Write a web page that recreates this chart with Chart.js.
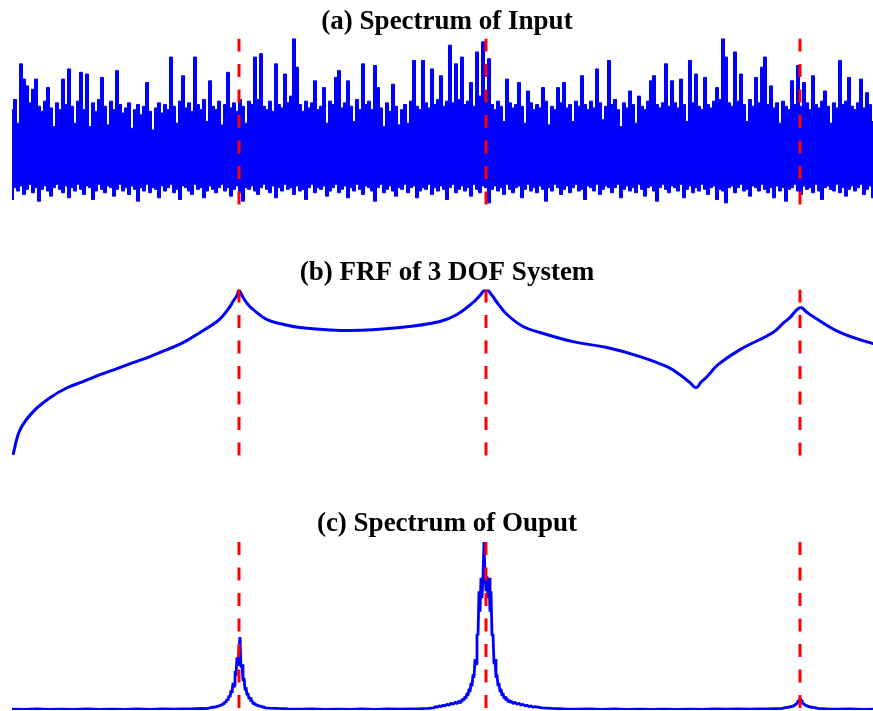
<!DOCTYPE html>
<html>
<head>
<meta charset="utf-8">
<title>3 DOF System Spectra</title>
<script src="https://cdn.jsdelivr.net/npm/chart.js@4.4.0/dist/chart.umd.min.js"></script>
<style>
  html, body { margin: 0; padding: 0; background: #fff; overflow: hidden; }
  body { width: 873px; height: 711px; position: relative; }
  canvas { position: absolute; left: 0; }
</style>
</head>
<body>
<canvas id="inputChart" width="882" height="212" style="top:0px"></canvas>
<canvas id="frfChart" width="882" height="212" style="top:251px"></canvas>
<canvas id="outputChart" width="882" height="212" style="top:502px"></canvas>
<script>
// frequency axis is in FFT bins, 0..870
var NATURAL_FREQS = [227, 474, 788];

var TITLES = ['(a) Spectrum of Input', '(b) FRF of 3 DOF System', '(c) Spectrum of Ouput'];

// input spectrum, one value every 3 bins: upper and lower envelope (relative amplitude)
var INPUT_UPPER = [
  58, 64, 50, 85, 76, 72, 62, 70, 76, 60,
  57, 63, 71, 59, 48, 62, 58, 76, 61, 82,
  60, 50, 63, 80, 58, 79, 48, 62, 57, 64,
  77, 60, 49, 63, 58, 81, 61, 56, 59, 62,
  47, 58, 61, 55, 60, 74, 57, 46, 59, 62,
  56, 61, 58, 89, 60, 50, 63, 78, 59, 62,
  57, 89, 61, 58, 64, 51, 75, 60, 58, 63,
  49, 61, 80, 59, 62, 57, 64, 60, 50, 63,
  61, 89, 64, 91, 60, 58, 63, 57, 85, 61,
  59, 79, 62, 66, 100, 83, 61, 57, 63, 59,
  62, 75, 58, 60, 71, 50, 63, 61, 77, 81,
  59, 62, 75, 60, 51, 64, 58, 85, 61, 63,
  58, 84, 71, 59, 48, 62, 57, 73, 60, 49,
  58, 61, 50, 63, 87, 60, 58, 87, 62, 59,
  82, 61, 64, 78, 60, 63, 96, 62, 85, 64,
  89, 61, 63, 74, 60, 92, 66, 98, 64, 88,
  61, 58, 63, 60, 51, 76, 62, 59, 61, 74,
  60, 50, 69, 62, 58, 61, 59, 71, 63, 49,
  60, 58, 71, 62, 74, 59, 61, 51, 63, 60,
  78, 61, 58, 63, 59, 82, 62, 52, 60, 87,
  61, 64, 58, 48, 62, 59, 69, 61, 50, 66,
  60, 58, 63, 75, 78, 61, 59, 62, 85, 60,
  75, 62, 59, 76, 61, 51, 87, 62, 79, 60,
  58, 77, 61, 59, 63, 71, 64, 100, 89, 62,
  60, 92, 63, 79, 61, 51, 64, 60, 77, 62,
  83, 89, 61, 72, 59, 62, 50, 63, 60, 58,
  75, 61, 84, 60, 74, 62, 58, 78, 61, 59,
  63, 69, 60, 50, 62, 59, 87, 61, 63, 77,
  60, 58, 62, 76, 59, 68, 61, 51, 63, 60,
  59
];

var INPUT_LOWER = [
  5, 12, 10, 13, 8, 11, 14, 9, 12, 4,
  11, 13, 10, 7, 12, 14, 11, 9, 13, 6,
  12, 10, 14, 11, 8, 13, 12, 5, 10, 14,
  11, 9, 13, 12, 7, 11, 14, 10, 12, 8,
  13, 11, 4, 12, 10, 14, 9, 12, 11, 6,
  13, 10, 12, 14, 9, 11, 5, 13, 12, 10,
  8, 14, 11, 12, 6, 10, 13, 11, 9, 12,
  14, 10, 12, 7, 11, 13, 9, 4, 12, 11,
  13, 10, 8, 12, 14, 11, 9, 13, 6, 12,
  10, 14, 11, 12, 8, 13, 10, 11, 5, 12,
  14, 9, 12, 11, 13, 7, 10, 12, 14, 9,
  11, 13, 6, 12, 10, 14, 11, 8, 13, 12,
  10, 4, 12, 14, 9, 11, 13, 10, 7, 12,
  11, 14, 9, 12, 13, 6, 10, 12, 11, 14,
  8, 12, 10, 13, 11, 5, 12, 14, 9, 11,
  13, 10, 12, 7, 14, 11, 9, 13, 12, 3,
  11, 13, 10, 12, 8, 14, 11, 9, 12, 13,
  6, 11, 14, 10, 12, 9, 13, 11, 4, 12,
  10, 14, 12, 8, 11, 13, 9, 12, 14, 10,
  11, 5, 13, 12, 10, 14, 8, 11, 13, 12,
  9, 12, 14, 6, 11, 13, 10, 12, 9, 14,
  11, 7, 12, 13, 10, 4, 12, 14, 11, 9,
  13, 12, 10, 14, 6, 11, 13, 9, 12, 10,
  14, 11, 8, 12, 13, 5, 11, 10, 3, 12,
  13, 9, 12, 14, 10, 11, 7, 13, 12, 10,
  14, 11, 9, 12, 6, 13, 10, 12, 4, 11,
  12, 14, 10, 8, 13, 11, 12, 9, 14, 10,
  5, 12, 13, 11, 10, 14, 9, 12, 7, 11,
  13, 10, 12, 14, 8, 11, 13, 6, 12, 10,
  12
];

// FRF magnitude, dB
var FRF_BINS = [
  1, 8, 21, 38, 55, 71, 88, 105, 121, 138,
  155, 171, 188, 205, 212, 218, 221, 225, 227, 231,
  236, 241, 255, 272, 288, 338, 388, 428, 445, 461,
  468, 474, 480, 485, 495, 511, 528, 561, 595, 628,
  655, 668, 678, 684, 689, 695, 706, 728, 761, 772,
  778, 784, 789, 794, 801, 828, 861, 870
];
var FRF_DB = [
  -137.6, -122.8, -112.2, -103.9, -98.0, -94.4, -90.3, -86.7, -83.2, -79.6,
  -75.5, -71.4, -65.4, -58.9, -54.8, -50.1, -47.1, -43.6, -40.6, -44.7,
  -48.9, -51.8, -57.8, -60.7, -62.5, -64.3, -62.5, -58.9, -54.8, -47.7,
  -43.5, -40.0, -43.5, -47.7, -54.8, -61.9, -65.4, -70.8, -74.3, -79.6,
  -85.6, -90.3, -95.0, -98.0, -94.7, -91.5, -84.4, -75.5, -65.4, -59.5,
  -56.6, -52.5, -50.7, -53.0, -56.0, -65.4, -72.0, -73.1
];

// output spectrum, relative amplitude
var OUTPUT_BINS = [
  0, 12, 25, 38, 50, 62, 75, 88, 100, 112, 125, 138, 150, 162, 172, 180, 188, 194, 198,
  201, 202, 203, 204, 205, 206, 207, 208, 209, 210, 211, 212, 213, 214, 215, 216, 217, 218, 219, 220,
  221, 222, 223, 224, 225, 226, 227, 228, 229, 230, 231, 232, 233, 234, 235, 236, 237, 238, 239, 240,
  241, 242, 243, 244, 245, 246, 247, 248, 249, 250, 251, 252, 253,
  258, 266, 276, 288, 300, 313, 326, 338, 350, 363, 376, 388, 398, 408, 416, 422,
  423, 425, 427, 429, 431, 433, 435, 437, 439, 441, 443, 445, 447,
  448, 449, 450, 451, 452, 453, 454, 455, 456, 457, 458, 459, 460, 461, 462, 463, 464, 465, 466, 467,
  468, 469, 470, 471, 472, 473, 474, 475, 476, 477, 478, 479, 480, 481, 482, 483, 484, 485, 486, 487,
  488, 489, 490, 491, 492, 493, 494, 495, 496, 497, 498,
  499, 501, 503, 505, 507, 509, 511, 513, 515, 517, 519, 521, 523,
  530, 540, 552, 565, 578, 590, 602, 615, 628, 640, 652, 665, 678, 690, 702, 714, 726, 738, 748, 756, 764, 770,
  776, 777, 778, 779, 780, 781, 782, 783, 784, 785, 786, 787, 788, 789, 790, 791, 792, 793, 794, 795,
  796, 797, 798, 799, 800,
  806, 815, 826, 838, 850, 862, 870
];
var OUTPUT_AMP = [
  0.5, 0.3, 0.6, 0.3, 0.5, 0.4, 0.6, 0.4, 0.5, 0.3, 0.6, 0.4, 0.6, 0.5, 0.7, 0.6, 0.9, 0.8, 1.2,
  1.7, 1.4, 2.0, 1.65, 2.4, 1.95, 2.8, 2.25, 3.3, 2.7, 4.0, 3.4, 5.0, 4.35, 6.5, 5.6, 8.5, 7.5, 11.5, 10,
  16, 14, 23, 20, 31, 26, 36, 43, 25, 27, 17, 19, 12, 13.5, 8.6, 10, 6.4, 7.5, 4.9, 5.8,
  3.8, 4.5, 3.0, 3.6, 2.5, 3.0, 2.1, 2.6, 1.8, 2.2, 1.5, 1.85, 1.3,
  1.1, 0.9, 0.7, 0.5, 0.6, 0.4, 0.5, 0.4, 0.6, 0.4, 0.6, 0.5, 0.7, 0.8, 0.9, 1.2,
  2.0, 1.6, 2.4, 2.0, 2.8, 2.4, 3.4, 2.8, 4.0, 3.3, 4.6, 3.8, 5.4,
  4.3, 6.1, 4.9, 6.9, 5.6, 8.0, 6.8, 10, 8.3, 12.5, 10.5, 16, 14, 21, 19, 30, 27, 45, 44, 70,
  58, 78, 66, 79, 99, 80, 70, 79, 66, 78, 58, 70, 44, 45, 27, 30, 19, 21, 14, 16,
  10.5, 12.5, 8.3, 10, 6.8, 8.0, 5.6, 6.9, 4.9, 6.1, 4.3,
  5.4, 3.8, 4.6, 3.3, 4.0, 2.8, 3.4, 2.4, 2.8, 2.0, 2.4, 1.6, 2.0,
  1.2, 0.9, 0.7, 0.5, 0.6, 0.4, 0.6, 0.4, 0.5, 0.3, 0.5, 0.4, 0.5, 0.4, 0.6, 0.5, 0.6, 0.5, 0.7, 0.6, 0.8, 0.9,
  1.7, 1.5, 2.0, 1.8, 2.4, 2.0, 2.9, 2.6, 3.8, 3.4, 5.5, 5.2, 7.0, 5.6, 5.5, 3.4, 3.8, 2.6, 2.9, 2.2,
  2.4, 1.8, 2.0, 1.5, 1.7,
  0.9, 0.7, 0.5, 0.6, 0.4, 0.5, 0.4
];

var BLUE = '#0000ff';
var RED = '#ff0000';
var TITLE_FONT = { family: '"Times New Roman", "Liberation Serif", Times, serif', size: 27, weight: 'bold' };

function toPoints(xs, ys) {
  return xs.map(function(x, i) { return { x: x, y: ys[i] }; });
}

function everyThirdBin(ys) {
  return ys.map(function(y, i) { return { x: 3 * i, y: y }; });
}

// red dashed marks at the natural frequencies
function markerSets(lo, hi) {
  return NATURAL_FREQS.map(function(f) {
    return {
      data: [{ x: f, y: hi }, { x: f, y: lo }],
      borderColor: RED,
      borderWidth: 3,
      borderDash: [13, 12.5],
      pointRadius: 0,
      order: 0
    };
  });
}

function renderPanel(canvasId, title, curves, yMin, yMax, markLo, markHi) {
  var ctx = document.getElementById(canvasId);
  return new Chart(ctx, {
    type: 'line',
    data: { datasets: markerSets(markLo, markHi).concat(curves) },
    options: {
      responsive: false,
      animation: false,
      events: [],
      layout: { padding: { left: 12, right: 0, top: 0, bottom: 4 } },
      plugins: {
        legend: { display: false },
        tooltip: { enabled: false },
        title: {
          display: true,
          text: title,
          color: '#000',
          font: TITLE_FONT,
          padding: { top: 6, bottom: 0 }
        }
      },
      scales: {
        x: { type: 'linear', min: 0, max: 870, display: false },
        y: { min: yMin, max: yMax, display: false }
      },
      elements: { point: { radius: 0 } }
    }
  });
}

// input: band between the two envelopes, filled solid
renderPanel('inputChart', TITLES[0], [
  {
    data: everyThirdBin(INPUT_UPPER),
    borderColor: BLUE,
    backgroundColor: BLUE,
    borderWidth: 1,
    stepped: 'middle',
    fill: '+1',
    order: 1
  },
  {
    data: everyThirdBin(INPUT_LOWER),
    borderColor: BLUE,
    borderWidth: 1,
    stepped: 'middle',
    fill: false,
    order: 2
  }
], 0, 100, 2, 100);

renderPanel('frfChart', TITLES[1], [{
  data: toPoints(FRF_BINS, FRF_DB),
  borderColor: BLUE,
  borderWidth: 3,
  borderJoinStyle: 'round',
  tension: 0.4,
  order: 1
}], -140, -40, -138.8, -40);

renderPanel('outputChart', TITLES[2], [{
  data: toPoints(OUTPUT_BINS, OUTPUT_AMP),
  borderColor: BLUE,
  borderWidth: 2.8,
  borderJoinStyle: 'bevel',
  tension: 0,
  order: 1
}], 0, 100, -1, 99);
</script>
</body>
</html>
